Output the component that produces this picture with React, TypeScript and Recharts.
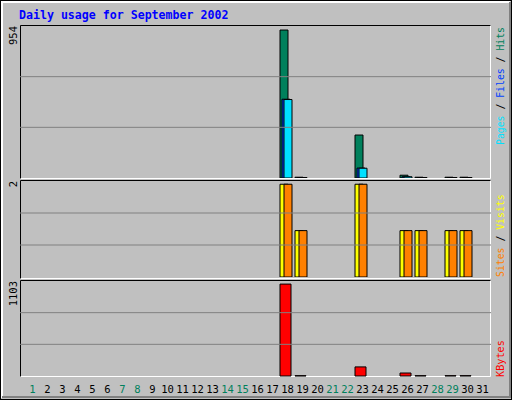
import React from 'react';
import { BarChart, Bar, XAxis, YAxis, ReferenceLine } from 'recharts';

document.body.style.margin = '0';

const days = ['1', '2', '3', '4', '5', '6', '7', '8', '9', '10', '11', '12', '13', '14', '15', '16',
    '17', '18', '19', '20', '21', '22', '23', '24', '25', '26', '27', '28', '29', '30', '31'];
const weekendDays = ['1', '7', '8', '14', '15', '21', '22', '28', '29'];

//                 1  2  3  4  5  6  7  8  9 10 11 12 13 14 15 16 17  18 19 20 21 22  23 24 25  26 27 28 29 30 31
const hits =      [0, 0, 0, 0, 0, 0, 0, 0, 0, 0, 0, 0, 0, 0, 0, 0, 0, 954, 5, 0, 0, 0, 277, 0, 0, 18, 5, 0, 5, 5, 0];
const files =     [0, 0, 0, 0, 0, 0, 0, 0, 0, 0, 0, 0, 0, 0, 0, 0, 0, 508, 3, 0, 0, 0, 64, 0, 0, 8, 3, 0, 3, 3, 0];
const pages =     [0, 0, 0, 0, 0, 0, 0, 0, 0, 0, 0, 0, 0, 0, 0, 0, 0, 506, 3, 0, 0, 0, 63, 0, 0, 8, 3, 0, 3, 3, 0];
const visits =    [0, 0, 0, 0, 0, 0, 0, 0, 0, 0, 0, 0, 0, 0, 0, 0, 0, 2, 1, 0, 0, 0, 2, 0, 0, 1, 1, 0, 1, 1, 0];
const sites =     [0, 0, 0, 0, 0, 0, 0, 0, 0, 0, 0, 0, 0, 0, 0, 0, 0, 2, 1, 0, 0, 0, 2, 0, 0, 1, 1, 0, 1, 1, 0];
const kbytes =    [0, 0, 0, 0, 0, 0, 0, 0, 0, 0, 0, 0, 0, 0, 0, 0, 0, 1103, 4, 0, 0, 0, 109, 0, 0, 36, 4, 0, 4, 4, 0];

const hitsMax = 954;
const visitsMax = 2;
const kbytesMax = 1103;

const data = days.map((d, i) => ({
    day: d,
    hits: hits[i],
    files: files[i],
    pages: pages[i],
    visits: visits[i],
    sites: sites[i],
    kbytes: kbytes[i],
}));

const C = {
    bg: '#C0C0C0',
    grid: '#808080',
    hits: '#00805C',
    files: '#0040FF',
    pages: '#00E0FF',
    visits: '#FFFF00',
    sites: '#FF8000',
    kbytes: '#FF0000',
    title: '#0000FF',
};

const mono = '"DejaVu Sans Mono", monospace';
const PAD = { left: 3, right: 3 };

const DayTick = (props: any) => {
    const { x, payload } = props;
    const weekend = weekendDays.includes(payload.value);
    return (
        <text x={x + 2} y={112} textAnchor="middle" fontFamily={mono} fontSize={10.5}
            fill={weekend ? C.hits : '#000'}>
            {payload.value}
        </text>
    );
};

const Frame = () => (
    <svg width={512} height={400} style={{ position: 'absolute', left: 0, top: 0 }}>
        <rect x={0} y={0} width={512} height={400} fill={C.bg} />
        {/* outer bevel */}
        <rect x={0.5} y={0.5} width={511} height={399} fill="none" stroke="#000" />
        <path d="M2,398 V2 H510" stroke="#fff" strokeWidth={2} fill="none" />
        <path d="M2,397 H510 V2" stroke={C.grid} strokeWidth={2} fill="none" />
        <text x={19} y={19} fontFamily={mono} fontSize={11.6} fontWeight="bold" fill={C.title}>
            Daily usage for September 2002
        </text>
        {/* panels: black top/left, white bottom/right */}
        {[[25, 179], [180, 279], [280, 377]].map(([t, b]) => (
            <g key={t}>
                <path d={`M20.5,${b} V${t + 0.5} H491`} stroke="#000" fill="none" />
                <path d={`M20.5,${b - 0.5} H490.5 V${t + 0.5}`} stroke="#fff" fill="none" />
            </g>
        ))}
        {/* max labels */}
        <text transform="rotate(-90 17 26)" x={17} y={26} textAnchor="end" fontFamily={mono} fontSize={10.5}>{hitsMax}</text>
        <text transform="rotate(-90 17 181)" x={17} y={181} textAnchor="end" fontFamily={mono} fontSize={10.5}>{visitsMax}</text>
        <text transform="rotate(-90 17 281)" x={17} y={281} textAnchor="end" fontFamily={mono} fontSize={10.5}>{kbytesMax}</text>
        {/* legends */}
        <text transform="rotate(-90 504 27)" x={504} y={27} textAnchor="end" fontFamily={mono} fontSize={9.8}>
            <tspan fill={C.pages}>Pages</tspan><tspan fill="#000">{' / '}</tspan>
            <tspan fill={C.files}>Files</tspan><tspan fill="#000">{' / '}</tspan>
            <tspan fill={C.hits}>Hits</tspan>
        </text>
        <text transform="rotate(-90 504 277)" x={504} y={277} textAnchor="start" fontFamily={mono} fontSize={9.8}>
            <tspan fill={C.sites}>Sites</tspan><tspan fill="#000">{' / '}</tspan>
            <tspan fill={C.visits}>Visits</tspan>
        </text>
        <text transform="rotate(-90 504 377)" x={504} y={377} textAnchor="start" fontFamily={mono} fontSize={10.2}>
            <tspan fill={C.kbytes}>KBytes</tspan>
        </text>
    </svg>
);

const App: React.FC = () => {
    const hitsTop = 980;
    const visitsTop = 2.07;
    const kbytesTop = 1140;
    return (
        <div style={{ position: 'relative', width: 512, height: 400, overflow: 'hidden' }}>
            <Frame />
            <div style={{ position: 'absolute', left: 20, top: 26 }}>
                <BarChart width={471} height={152} data={data} margin={{ top: 0, right: 0, bottom: 0, left: 0 }}
                    barSize={8} barGap={-6} barCategoryGap={0}>
                    <XAxis dataKey="day" hide padding={PAD} />
                    <YAxis hide domain={[0, hitsTop]} />
                    <ReferenceLine y={hitsTop / 3} stroke={C.grid} />
                    <ReferenceLine y={(hitsTop * 2) / 3} stroke={C.grid} />
                    <Bar dataKey="hits" fill={C.hits} stroke="#000" isAnimationActive={false} />
                    <Bar dataKey="files" fill={C.files} stroke="#000" isAnimationActive={false} />
                    <Bar dataKey="pages" fill={C.pages} stroke="#000" isAnimationActive={false} />
                </BarChart>
            </div>
            <div style={{ position: 'absolute', left: 20, top: 181 }}>
                <BarChart width={471} height={96} data={data} margin={{ top: 0, right: 0, bottom: 0, left: 0 }}
                    barSize={8} barGap={-4} barCategoryGap={0}>
                    <XAxis dataKey="day" hide padding={PAD} />
                    <YAxis hide domain={[0, visitsTop]} />
                    <ReferenceLine y={visitsTop / 3} stroke={C.grid} />
                    <ReferenceLine y={(visitsTop * 2) / 3} stroke={C.grid} />
                    <Bar dataKey="visits" fill={C.visits} stroke="#000" isAnimationActive={false} />
                    <Bar dataKey="sites" fill={C.sites} stroke="#000" isAnimationActive={false} />
                </BarChart>
            </div>
            <div style={{ position: 'absolute', left: 20, top: 281 }}>
                <BarChart width={471} height={120} data={data} margin={{ top: 0, right: 0, bottom: 0, left: 0 }}
                    barSize={11} barCategoryGap={0}>
                    <XAxis dataKey="day" padding={PAD} axisLine={false} tickLine={false} interval={0}
                        tick={<DayTick />} height={25} />
                    <YAxis hide domain={[0, kbytesTop]} />
                    <ReferenceLine y={kbytesTop / 3} stroke={C.grid} />
                    <ReferenceLine y={(kbytesTop * 2) / 3} stroke={C.grid} />
                    <Bar dataKey="kbytes" fill={C.kbytes} stroke="#000" isAnimationActive={false} />
                </BarChart>
            </div>
        </div>
    );
};

export default App;
